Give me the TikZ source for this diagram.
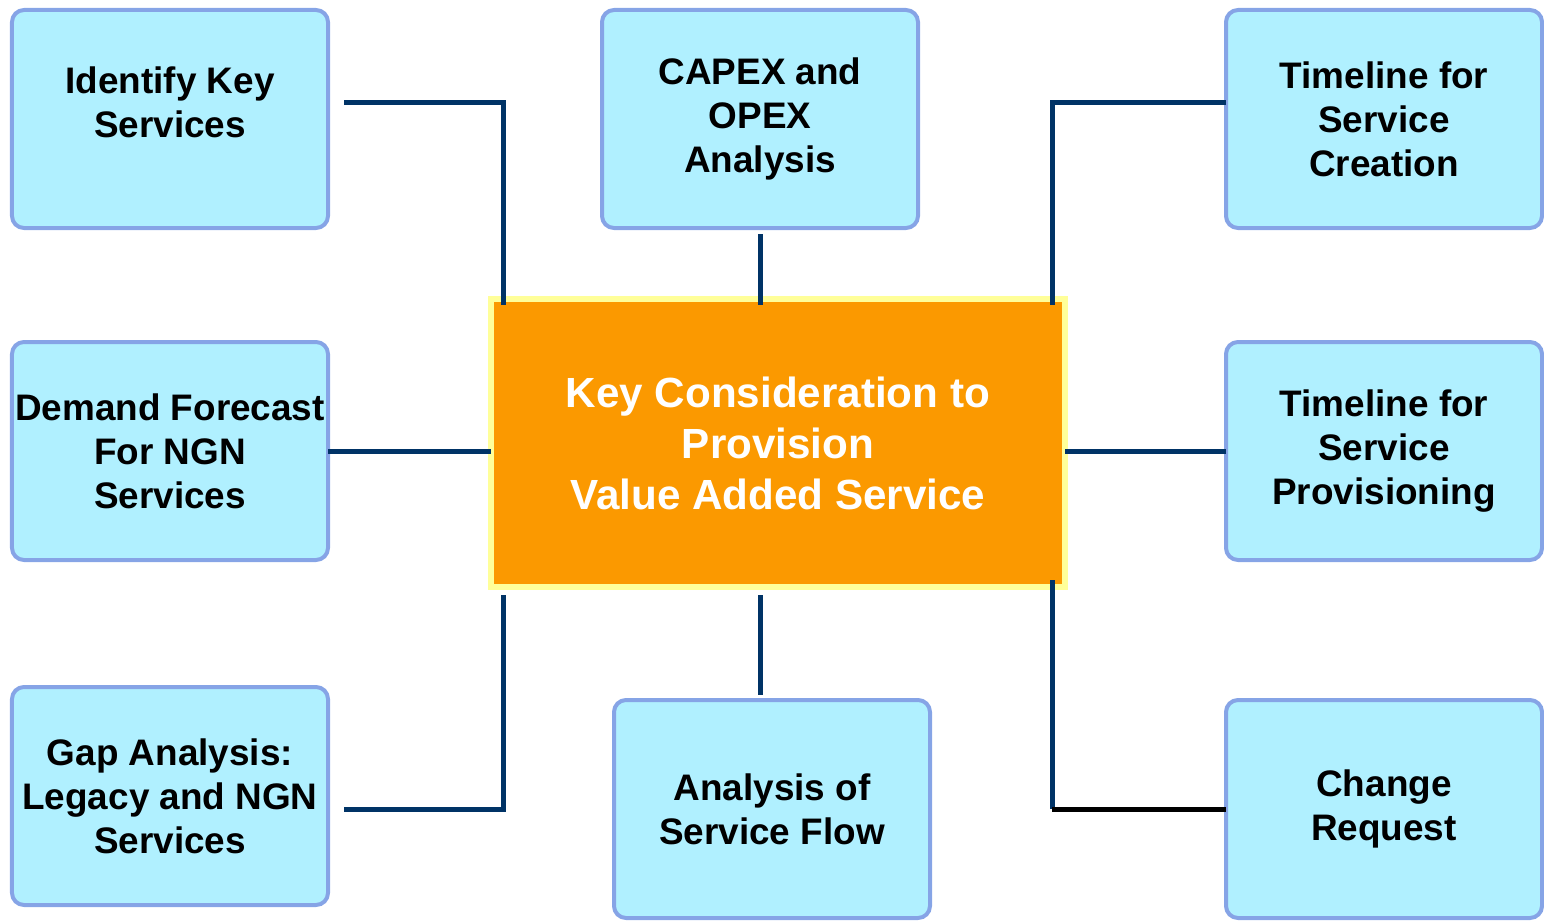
\documentclass[tikz,border=0pt]{standalone}
\usepackage{fontspec}
\setmainfont{Liberation Sans}
\usepackage{tikz}
\usepackage{xcolor}

\definecolor{boxfill}{HTML}{B0F0FF}
\definecolor{boxedge}{HTML}{86A4E6}
\definecolor{hubfill}{HTML}{FB9900}
\definecolor{hubedge}{HTML}{FFFF99}
\definecolor{navy}{HTML}{003366}

\begin{document}
\begin{tikzpicture}[
  task/.style={draw=boxedge,fill=boxfill,line width=0.04cm,rounded corners=0.12cm,
    minimum width=3.16cm,minimum height=2.18cm,inner sep=0pt,outer sep=0pt,align=center,
    font=\fontsize{10.5pt}{12.5pt}\selectfont\bfseries},
  hub/.style={draw=hubedge,fill=hubfill,line width=0.06cm,minimum width=5.745cm,
    minimum height=2.88cm,inner sep=0pt,outer sep=0pt,align=center,text=white,
    font=\fontsize{12pt}{14.5pt}\selectfont\bfseries},
  link/.style={navy,line width=0.05cm}
]
\useasboundingbox (0,0) rectangle (15.44,9.2);

\node[hub] (core) at (7.78,4.77) {Key Consideration to\\Provision\\Value Added Service};

\node[task] (idkey) at (1.70,8.01) {\raisebox{0pt}[\height][\dimexpr\depth+0.24cm\relax]{\begin{tabular}{@{}c@{}}Identify Key\\Services\end{tabular}}};
\node[task] (capex) at (7.60,8.01) {CAPEX and\\OPEX\\Analysis};
\node[task] (tlcreate) at (13.84,8.01) {Timeline for\\Service\\Creation};
\node[task] (demand) at (1.70,4.69) {Demand Forecast\\For NGN\\Services};
\node[task] (tlprov) at (13.84,4.69) {Timeline for\\Service\\Provisioning};
\node[task] (gap) at (1.70,1.24) {Gap Analysis:\\Legacy and NGN\\Services};
\node[task] (flow) at (7.72,1.11) {Analysis of\\Service Flow};
\node[task] (change) at (13.84,1.11) {Change\\Request};

% top row
\draw[link] ([xshift=0.16cm,yshift=0.16cm]idkey.east) -| ([xshift=0.13cm,yshift=-0.06cm]core.north west);
\draw[link] ([yshift=-0.06cm]capex.south) -- ([yshift=-0.06cm]capex.south |- core.north);
\draw[link] ([yshift=0.16cm]tlcreate.west) -| ([xshift=-0.13cm,yshift=-0.06cm]core.north east);

% middle row
\draw[link] (demand.east) -- (demand.east -| core.west);
\draw[link] (tlprov.west) -- (tlprov.west -| core.east);

% bottom row
\draw[link] ([xshift=0.16cm,yshift=-0.13cm]gap.east) -| ([xshift=0.13cm,yshift=-0.08cm]core.south west);
\draw[link] ([yshift=-0.08cm]core.south -| capex.south) -- ([yshift=0.05cm]flow.north -| capex.south);
\coordinate (crbend) at ([xshift=-0.13cm]core.south east |- change.west);
\draw[link] ([xshift=-0.13cm,yshift=0.07cm]core.south east) -- (crbend);
\draw[link,black] (crbend) -- (change.west);

\end{tikzpicture}
\end{document}
